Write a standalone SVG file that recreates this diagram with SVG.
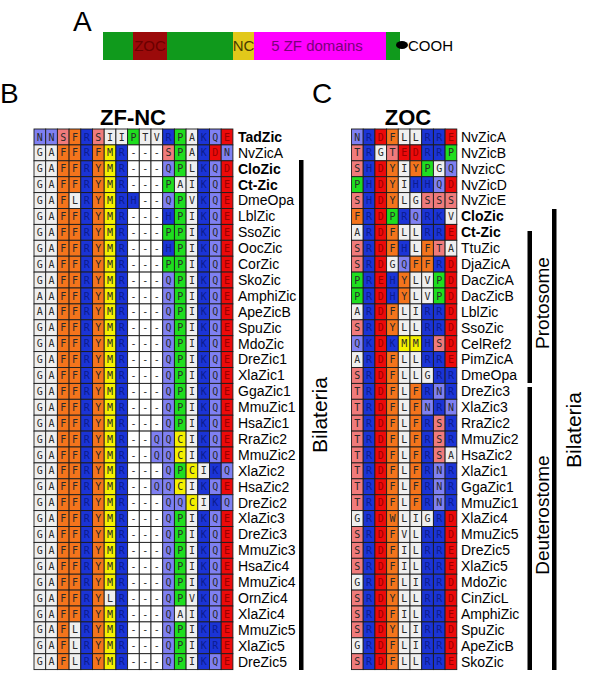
<svg xmlns="http://www.w3.org/2000/svg" width="600" height="681" viewBox="0 0 600 681">
<style>
.cell rect{width:11.7px;height:15.9px;stroke:#1c1c1c;stroke-width:.9px}
.b{fill:#1b34d6}.q{fill:#7f80f2}.r{fill:#ec0a0a}.s{fill:#f07b7b}.o{fill:#f4741c}.y{fill:#f4f000}.g{fill:#1fde1f}.w{fill:#efefef}.n{fill:#fff}
.lt{font-family:"DejaVu Sans Mono",monospace;font-size:10px;fill:#2a2a2a;text-anchor:middle}
.tb{fill:#0c1c8e}.tr{fill:#9a0000}
.nm{font-family:"Liberation Sans",Arial,sans-serif;font-size:14px;fill:#000}
.bd{font-weight:bold}
.pl{font-family:"Liberation Sans",Arial,sans-serif;font-size:28px;fill:#000}
.tt{font-family:"Liberation Sans",Arial,sans-serif;font-size:22px;font-weight:bold;text-anchor:middle}
.gl{font-family:"Liberation Sans",Arial,sans-serif;font-size:21px;text-anchor:middle}
.gs{font-family:"Liberation Sans",Arial,sans-serif;font-size:19px;text-anchor:middle}
.dm{font-family:"Liberation Sans",Arial,sans-serif;font-size:15px;text-anchor:middle}
</style>
<defs>
<g id="zstd" class="cell"><rect class="w"/><rect x="11.7" class="w"/><rect x="23.4" class="o"/><rect x="35.1" class="o"/><rect x="46.8" class="b"/><rect x="58.5" class="o"/><rect x="70.2" class="y"/><rect x="81.9" class="b"/><rect x="93.6" class="n"/><rect x="105.3" class="n"/><rect x="117" class="n"/><rect x="128.7" class="q"/><rect x="140.4" class="g"/><rect x="152.1" class="w"/><rect x="163.8" class="b"/><rect x="175.5" class="q"/><rect x="187.2" class="r"/><text class="lt" y="11.6" x="5.85 17.55 29.25 40.95 52.65 64.35 76.05 87.75 99.45 111.15 122.85 134.55 146.25 157.95 169.65 181.35 193.05">GAFF<tspan class="tb">R</tspan>YM<tspan class="tb">R</tspan>---QPI<tspan class="tb">K</tspan>Q<tspan class="tr">E</tspan></text></g>
<g id="zlbl" class="cell"><rect class="w"/><rect x="11.7" class="w"/><rect x="23.4" class="o"/><rect x="35.1" class="o"/><rect x="46.8" class="b"/><rect x="58.5" class="o"/><rect x="70.2" class="y"/><rect x="81.9" class="b"/><rect x="93.6" class="n"/><rect x="105.3" class="n"/><rect x="117" class="n"/><rect x="128.7" class="b"/><rect x="140.4" class="g"/><rect x="152.1" class="w"/><rect x="163.8" class="b"/><rect x="175.5" class="q"/><rect x="187.2" class="r"/><text class="lt" y="11.6" x="5.85 17.55 29.25 40.95 52.65 64.35 76.05 87.75 99.45 111.15 122.85 134.55 146.25 157.95 169.65 181.35 193.05">GAFF<tspan class="tb">R</tspan>YM<tspan class="tb">R</tspan>---<tspan class="tb">H</tspan>PI<tspan class="tb">K</tspan>Q<tspan class="tr">E</tspan></text></g>
<g id="zsso" class="cell"><rect class="w"/><rect x="11.7" class="w"/><rect x="23.4" class="o"/><rect x="35.1" class="o"/><rect x="46.8" class="b"/><rect x="58.5" class="o"/><rect x="70.2" class="y"/><rect x="81.9" class="b"/><rect x="93.6" class="n"/><rect x="105.3" class="n"/><rect x="117" class="n"/><rect x="128.7" class="g"/><rect x="140.4" class="g"/><rect x="152.1" class="w"/><rect x="163.8" class="b"/><rect x="175.5" class="q"/><rect x="187.2" class="r"/><text class="lt" y="11.6" x="5.85 17.55 29.25 40.95 52.65 64.35 76.05 87.75 99.45 111.15 122.85 134.55 146.25 157.95 169.65 181.35 193.05">GAFF<tspan class="tb">R</tspan>YM<tspan class="tb">R</tspan>---PPI<tspan class="tb">K</tspan>Q<tspan class="tr">E</tspan></text></g>
<g id="zrra" class="cell"><rect class="w"/><rect x="11.7" class="w"/><rect x="23.4" class="o"/><rect x="35.1" class="o"/><rect x="46.8" class="b"/><rect x="58.5" class="o"/><rect x="70.2" class="y"/><rect x="81.9" class="b"/><rect x="93.6" class="n"/><rect x="105.3" class="n"/><rect x="117" class="q"/><rect x="128.7" class="q"/><rect x="140.4" class="y"/><rect x="152.1" class="w"/><rect x="163.8" class="b"/><rect x="175.5" class="q"/><rect x="187.2" class="r"/><text class="lt" y="11.6" x="5.85 17.55 29.25 40.95 52.65 64.35 76.05 87.75 99.45 111.15 122.85 134.55 146.25 157.95 169.65 181.35 193.05">GAFF<tspan class="tb">R</tspan>YM<tspan class="tb">R</tspan>--QQCI<tspan class="tb">K</tspan>Q<tspan class="tr">E</tspan></text></g>
<g id="zmmu5" class="cell"><rect class="w"/><rect x="11.7" class="w"/><rect x="23.4" class="o"/><rect x="35.1" class="w"/><rect x="46.8" class="b"/><rect x="58.5" class="o"/><rect x="70.2" class="y"/><rect x="81.9" class="b"/><rect x="93.6" class="n"/><rect x="105.3" class="n"/><rect x="117" class="n"/><rect x="128.7" class="q"/><rect x="140.4" class="g"/><rect x="152.1" class="w"/><rect x="163.8" class="b"/><rect x="175.5" class="b"/><rect x="187.2" class="r"/><text class="lt" y="11.6" x="5.85 17.55 29.25 40.95 52.65 64.35 76.05 87.75 99.45 111.15 122.85 134.55 146.25 157.95 169.65 181.35 193.05">GAFL<tspan class="tb">R</tspan>YM<tspan class="tb">R</tspan>---QPI<tspan class="tb">KR</tspan><tspan class="tr">E</tspan></text></g>
<g id="oA" class="cell"><rect class="w"/><rect x="11.7" class="b"/><rect x="23.4" class="r"/><rect x="35.1" class="o"/><rect x="46.8" class="w"/><rect x="58.5" class="w"/><rect x="70.2" class="b"/><rect x="81.9" class="b"/><rect x="93.6" class="r"/><text class="lt" y="11.6" x="5.85 17.55 29.25 40.95 52.65 64.35 76.05 87.75 99.45">A<tspan class="tb">R</tspan><tspan class="tr">D</tspan>FLL<tspan class="tb">RR</tspan><tspan class="tr">E</tspan></text></g>
<g id="oT" class="cell"><rect class="s"/><rect x="11.7" class="b"/><rect x="23.4" class="r"/><rect x="35.1" class="o"/><rect x="46.8" class="w"/><rect x="58.5" class="o"/><rect x="70.2" class="b"/><rect x="81.9" class="q"/><rect x="93.6" class="b"/><text class="lt" y="11.6" x="5.85 17.55 29.25 40.95 52.65 64.35 76.05 87.75 99.45">T<tspan class="tb">R</tspan><tspan class="tr">D</tspan>FLF<tspan class="tb">R</tspan>N<tspan class="tb">R</tspan></text></g>
<g id="oS" class="cell"><rect class="s"/><rect x="11.7" class="b"/><rect x="23.4" class="r"/><rect x="35.1" class="o"/><rect x="46.8" class="w"/><rect x="58.5" class="o"/><rect x="70.2" class="b"/><rect x="81.9" class="s"/><rect x="93.6" class="b"/><text class="lt" y="11.6" x="5.85 17.55 29.25 40.95 52.65 64.35 76.05 87.75 99.45">T<tspan class="tb">R</tspan><tspan class="tr">D</tspan>FLF<tspan class="tb">R</tspan>S<tspan class="tb">R</tspan></text></g>
<g id="oI" class="cell"><rect class="s"/><rect x="11.7" class="b"/><rect x="23.4" class="r"/><rect x="35.1" class="o"/><rect x="46.8" class="w"/><rect x="58.5" class="w"/><rect x="70.2" class="b"/><rect x="81.9" class="b"/><rect x="93.6" class="r"/><text class="lt" y="11.6" x="5.85 17.55 29.25 40.95 52.65 64.35 76.05 87.75 99.45">S<tspan class="tb">R</tspan><tspan class="tr">D</tspan>FIL<tspan class="tb">RR</tspan><tspan class="tr">E</tspan></text></g>
<g id="oG" class="cell"><rect class="w"/><rect x="11.7" class="b"/><rect x="23.4" class="r"/><rect x="35.1" class="o"/><rect x="46.8" class="w"/><rect x="58.5" class="w"/><rect x="70.2" class="b"/><rect x="81.9" class="b"/><rect x="93.6" class="r"/><text class="lt" y="11.6" x="5.85 17.55 29.25 40.95 52.65 64.35 76.05 87.75 99.45">G<tspan class="tb">R</tspan><tspan class="tr">D</tspan>FLI<tspan class="tb">RR</tspan><tspan class="tr">D</tspan></text></g>
<g id="oY" class="cell"><rect class="s"/><rect x="11.7" class="b"/><rect x="23.4" class="r"/><rect x="35.1" class="o"/><rect x="46.8" class="w"/><rect x="58.5" class="w"/><rect x="70.2" class="b"/><rect x="81.9" class="b"/><rect x="93.6" class="r"/><text class="lt" y="11.6" x="5.85 17.55 29.25 40.95 52.65 64.35 76.05 87.75 99.45">S<tspan class="tb">R</tspan><tspan class="tr">D</tspan>YLL<tspan class="tb">RR</tspan><tspan class="tr">D</tspan></text></g>
</defs>

<g id="panelA">
<text class="pl" x="73" y="31">A</text>
<rect x="103" y="32" width="297" height="28" fill="#109a1c"/>
<rect x="133" y="32" width="34" height="28" fill="#9b0a0a"/>
<rect x="233" y="32" width="21" height="28" fill="#e2c81a"/>
<rect x="254" y="32" width="132" height="28" fill="#ff00ff"/>
<text class="dm" x="150" y="51" fill="#6a0000">ZOC</text>
<text class="dm" x="243.5" y="51" fill="#4a3c00">NC</text>
<text class="dm" x="317" y="51" fill="#7a007a">5 ZF domains</text>
<ellipse cx="402" cy="45" rx="6" ry="4" fill="#000"/>
<text x="408" y="51" font-family="Liberation Sans, Arial, sans-serif" font-size="15" fill="#000">COOH</text>
</g>

<text class="pl" x="0" y="103">B</text>
<text class="pl" x="312" y="103">C</text>
<text class="tt" x="133" y="125">ZF-NC</text>
<text class="tt" x="408" y="125">ZOC</text>

<g id="zfnc">
<g id="zf-TadZic" class="cell" transform="translate(34,129)"><rect class="q"/><rect x="11.7" class="q"/><rect x="23.4" class="s"/><rect x="35.1" class="o"/><rect x="46.8" class="b"/><rect x="58.5" class="s"/><rect x="70.2" class="w"/><rect x="81.9" class="w"/><rect x="93.6" class="g"/><rect x="105.3" class="w"/><rect x="117" class="w"/><rect x="128.7" class="b"/><rect x="140.4" class="g"/><rect x="152.1" class="w"/><rect x="163.8" class="b"/><rect x="175.5" class="q"/><rect x="187.2" class="r"/><text class="lt" y="11.6" x="5.85 17.55 29.25 40.95 52.65 64.35 76.05 87.75 99.45 111.15 122.85 134.55 146.25 157.95 169.65 181.35 193.05">NNSF<tspan class="tb">R</tspan>SIIPTV<tspan class="tb">R</tspan>PA<tspan class="tb">K</tspan>Q<tspan class="tr">E</tspan></text></g>
<g id="zf-NvZicA" class="cell" transform="translate(34,144.9)"><rect class="w"/><rect x="11.7" class="w"/><rect x="23.4" class="o"/><rect x="35.1" class="o"/><rect x="46.8" class="b"/><rect x="58.5" class="o"/><rect x="70.2" class="y"/><rect x="81.9" class="b"/><rect x="93.6" class="n"/><rect x="105.3" class="n"/><rect x="117" class="n"/><rect x="128.7" class="s"/><rect x="140.4" class="g"/><rect x="152.1" class="w"/><rect x="163.8" class="b"/><rect x="175.5" class="r"/><rect x="187.2" class="q"/><text class="lt" y="11.6" x="5.85 17.55 29.25 40.95 52.65 64.35 76.05 87.75 99.45 111.15 122.85 134.55 146.25 157.95 169.65 181.35 193.05">GAFF<tspan class="tb">R</tspan>FM<tspan class="tb">R</tspan>---SPA<tspan class="tb">K</tspan><tspan class="tr">D</tspan>N</text></g>
<g id="zf-CloZic" class="cell" transform="translate(34,160.8)"><rect class="w"/><rect x="11.7" class="w"/><rect x="23.4" class="o"/><rect x="35.1" class="o"/><rect x="46.8" class="b"/><rect x="58.5" class="o"/><rect x="70.2" class="y"/><rect x="81.9" class="b"/><rect x="93.6" class="n"/><rect x="105.3" class="n"/><rect x="117" class="n"/><rect x="128.7" class="q"/><rect x="140.4" class="g"/><rect x="152.1" class="w"/><rect x="163.8" class="b"/><rect x="175.5" class="q"/><rect x="187.2" class="r"/><text class="lt" y="11.6" x="5.85 17.55 29.25 40.95 52.65 64.35 76.05 87.75 99.45 111.15 122.85 134.55 146.25 157.95 169.65 181.35 193.05">GAFF<tspan class="tb">R</tspan>YM<tspan class="tb">R</tspan>---QPL<tspan class="tb">K</tspan>Q<tspan class="tr">D</tspan></text></g>
<g id="zf-CtZic" class="cell" transform="translate(34,176.7)"><rect class="w"/><rect x="11.7" class="w"/><rect x="23.4" class="o"/><rect x="35.1" class="o"/><rect x="46.8" class="b"/><rect x="58.5" class="o"/><rect x="70.2" class="y"/><rect x="81.9" class="b"/><rect x="93.6" class="n"/><rect x="105.3" class="n"/><rect x="117" class="n"/><rect x="128.7" class="g"/><rect x="140.4" class="w"/><rect x="152.1" class="w"/><rect x="163.8" class="b"/><rect x="175.5" class="q"/><rect x="187.2" class="r"/><text class="lt" y="11.6" x="5.85 17.55 29.25 40.95 52.65 64.35 76.05 87.75 99.45 111.15 122.85 134.55 146.25 157.95 169.65 181.35 193.05">GAFF<tspan class="tb">R</tspan>YM<tspan class="tb">R</tspan>---PAI<tspan class="tb">K</tspan>Q<tspan class="tr">E</tspan></text></g>
<g id="zf-DmeOpa" class="cell" transform="translate(34,192.6)"><rect class="w"/><rect x="11.7" class="w"/><rect x="23.4" class="o"/><rect x="35.1" class="w"/><rect x="46.8" class="b"/><rect x="58.5" class="o"/><rect x="70.2" class="y"/><rect x="81.9" class="b"/><rect x="93.6" class="b"/><rect x="105.3" class="n"/><rect x="117" class="n"/><rect x="128.7" class="q"/><rect x="140.4" class="g"/><rect x="152.1" class="w"/><rect x="163.8" class="b"/><rect x="175.5" class="q"/><rect x="187.2" class="r"/><text class="lt" y="11.6" x="5.85 17.55 29.25 40.95 52.65 64.35 76.05 87.75 99.45 111.15 122.85 134.55 146.25 157.95 169.65 181.35 193.05">GAFL<tspan class="tb">R</tspan>YM<tspan class="tb">RH</tspan>--QPV<tspan class="tb">K</tspan>Q<tspan class="tr">E</tspan></text></g>
<use id="zf-LblZic" href="#zlbl" x="34" y="208.5"/>
<use id="zf-SsoZic" href="#zsso" x="34" y="224.4"/>
<use id="zf-OocZic" href="#zlbl" x="34" y="240.3"/>
<use id="zf-CorZic" href="#zsso" x="34" y="256.2"/>
<use id="zf-SkoZic" href="#zstd" x="34" y="272.1"/>
<g id="zf-AmphiZic" class="cell" transform="translate(34,288)"><rect class="w"/><rect x="11.7" class="w"/><rect x="23.4" class="o"/><rect x="35.1" class="o"/><rect x="46.8" class="b"/><rect x="58.5" class="o"/><rect x="70.2" class="y"/><rect x="81.9" class="b"/><rect x="93.6" class="n"/><rect x="105.3" class="n"/><rect x="117" class="n"/><rect x="128.7" class="q"/><rect x="140.4" class="g"/><rect x="152.1" class="w"/><rect x="163.8" class="b"/><rect x="175.5" class="q"/><rect x="187.2" class="r"/><text class="lt" y="11.6" x="5.85 17.55 29.25 40.95 52.65 64.35 76.05 87.75 99.45 111.15 122.85 134.55 146.25 157.95 169.65 181.35 193.05">AAFF<tspan class="tb">R</tspan>YM<tspan class="tb">R</tspan>---QPI<tspan class="tb">K</tspan>Q<tspan class="tr">E</tspan></text></g>
<g id="zf-ApeZicB" class="cell" transform="translate(34,303.9)"><rect class="w"/><rect x="11.7" class="w"/><rect x="23.4" class="o"/><rect x="35.1" class="o"/><rect x="46.8" class="b"/><rect x="58.5" class="o"/><rect x="70.2" class="y"/><rect x="81.9" class="b"/><rect x="93.6" class="n"/><rect x="105.3" class="n"/><rect x="117" class="n"/><rect x="128.7" class="q"/><rect x="140.4" class="g"/><rect x="152.1" class="w"/><rect x="163.8" class="b"/><rect x="175.5" class="q"/><rect x="187.2" class="r"/><text class="lt" y="11.6" x="5.85 17.55 29.25 40.95 52.65 64.35 76.05 87.75 99.45 111.15 122.85 134.55 146.25 157.95 169.65 181.35 193.05">AAFF<tspan class="tb">R</tspan>YM<tspan class="tb">R</tspan>---QPI<tspan class="tb">K</tspan>Q<tspan class="tr">E</tspan></text></g>
<use id="zf-SpuZic" href="#zstd" x="34" y="319.8"/>
<use id="zf-MdoZic" href="#zstd" x="34" y="335.7"/>
<use id="zf-DreZic1" href="#zstd" x="34" y="351.6"/>
<use id="zf-XlaZic1" href="#zstd" x="34" y="367.5"/>
<use id="zf-GgaZic1" href="#zstd" x="34" y="383.4"/>
<use id="zf-MmuZic1" href="#zstd" x="34" y="399.3"/>
<use id="zf-HsaZic1" href="#zstd" x="34" y="415.2"/>
<use id="zf-RraZic2" href="#zrra" x="34" y="431.1"/>
<use id="zf-MmuZic2" href="#zrra" x="34" y="447"/>
<g id="zf-XlaZic2" class="cell" transform="translate(34,462.9)"><rect class="w"/><rect x="11.7" class="w"/><rect x="23.4" class="o"/><rect x="35.1" class="o"/><rect x="46.8" class="b"/><rect x="58.5" class="o"/><rect x="70.2" class="y"/><rect x="81.9" class="b"/><rect x="93.6" class="n"/><rect x="105.3" class="n"/><rect x="117" class="n"/><rect x="128.7" class="q"/><rect x="140.4" class="g"/><rect x="152.1" class="y"/><rect x="163.8" class="w"/><rect x="175.5" class="b"/><rect x="187.2" class="q"/><text class="lt" y="11.6" x="5.85 17.55 29.25 40.95 52.65 64.35 76.05 87.75 99.45 111.15 122.85 134.55 146.25 157.95 169.65 181.35 193.05">GAFF<tspan class="tb">R</tspan>YM<tspan class="tb">R</tspan>---QPCI<tspan class="tb">K</tspan>Q</text></g>
<use id="zf-HsaZic2" href="#zrra" x="34" y="478.8"/>
<g id="zf-DreZic2" class="cell" transform="translate(34,494.7)"><rect class="w"/><rect x="11.7" class="w"/><rect x="23.4" class="o"/><rect x="35.1" class="o"/><rect x="46.8" class="b"/><rect x="58.5" class="o"/><rect x="70.2" class="y"/><rect x="81.9" class="b"/><rect x="93.6" class="n"/><rect x="105.3" class="n"/><rect x="117" class="n"/><rect x="128.7" class="q"/><rect x="140.4" class="q"/><rect x="152.1" class="y"/><rect x="163.8" class="w"/><rect x="175.5" class="b"/><rect x="187.2" class="q"/><text class="lt" y="11.6" x="5.85 17.55 29.25 40.95 52.65 64.35 76.05 87.75 99.45 111.15 122.85 134.55 146.25 157.95 169.65 181.35 193.05">GAFF<tspan class="tb">R</tspan>YM<tspan class="tb">R</tspan>---QQCI<tspan class="tb">K</tspan>Q</text></g>
<use id="zf-XlaZic3" href="#zstd" x="34" y="510.6"/>
<use id="zf-DreZic3" href="#zstd" x="34" y="526.5"/>
<use id="zf-MmuZic3" href="#zstd" x="34" y="542.4"/>
<use id="zf-HsaZic4" href="#zstd" x="34" y="558.3"/>
<use id="zf-MmuZic4" href="#zstd" x="34" y="574.2"/>
<g id="zf-OrnZic4" class="cell" transform="translate(34,590.1)"><rect class="w"/><rect x="11.7" class="w"/><rect x="23.4" class="o"/><rect x="35.1" class="o"/><rect x="46.8" class="b"/><rect x="58.5" class="o"/><rect x="70.2" class="w"/><rect x="81.9" class="b"/><rect x="93.6" class="n"/><rect x="105.3" class="n"/><rect x="117" class="n"/><rect x="128.7" class="q"/><rect x="140.4" class="g"/><rect x="152.1" class="w"/><rect x="163.8" class="b"/><rect x="175.5" class="q"/><rect x="187.2" class="r"/><text class="lt" y="11.6" x="5.85 17.55 29.25 40.95 52.65 64.35 76.05 87.75 99.45 111.15 122.85 134.55 146.25 157.95 169.65 181.35 193.05">GAFF<tspan class="tb">R</tspan>YL<tspan class="tb">R</tspan>---QPV<tspan class="tb">K</tspan>Q<tspan class="tr">E</tspan></text></g>
<g id="zf-XlaZic4" class="cell" transform="translate(34,606)"><rect class="w"/><rect x="11.7" class="w"/><rect x="23.4" class="o"/><rect x="35.1" class="o"/><rect x="46.8" class="b"/><rect x="58.5" class="o"/><rect x="70.2" class="y"/><rect x="81.9" class="b"/><rect x="93.6" class="n"/><rect x="105.3" class="n"/><rect x="117" class="n"/><rect x="128.7" class="q"/><rect x="140.4" class="w"/><rect x="152.1" class="w"/><rect x="163.8" class="b"/><rect x="175.5" class="q"/><rect x="187.2" class="r"/><text class="lt" y="11.6" x="5.85 17.55 29.25 40.95 52.65 64.35 76.05 87.75 99.45 111.15 122.85 134.55 146.25 157.95 169.65 181.35 193.05">GAFF<tspan class="tb">R</tspan>YM<tspan class="tb">R</tspan>---QAI<tspan class="tb">K</tspan>Q<tspan class="tr">E</tspan></text></g>
<use id="zf-MmuZic5" href="#zmmu5" x="34" y="621.9"/>
<use id="zf-XlaZic5" href="#zmmu5" x="34" y="637.8"/>
<g id="zf-DreZic5" class="cell" transform="translate(34,653.7)"><rect class="w"/><rect x="11.7" class="w"/><rect x="23.4" class="o"/><rect x="35.1" class="w"/><rect x="46.8" class="b"/><rect x="58.5" class="o"/><rect x="70.2" class="y"/><rect x="81.9" class="b"/><rect x="93.6" class="n"/><rect x="105.3" class="n"/><rect x="117" class="n"/><rect x="128.7" class="q"/><rect x="140.4" class="g"/><rect x="152.1" class="w"/><rect x="163.8" class="b"/><rect x="175.5" class="q"/><rect x="187.2" class="r"/><text class="lt" y="11.6" x="5.85 17.55 29.25 40.95 52.65 64.35 76.05 87.75 99.45 111.15 122.85 134.55 146.25 157.95 169.65 181.35 193.05">GAFL<tspan class="tb">R</tspan>YM<tspan class="tb">R</tspan>---QPI<tspan class="tb">K</tspan>Q<tspan class="tr">E</tspan></text></g>
</g>

<g id="zfnc-names" class="nm">
<text x="238" y="141.8" class="bd">TadZic</text>
<text x="238" y="157.7">NvZicA</text>
<text x="238" y="173.6" class="bd">CloZic</text>
<text x="238" y="189.5" class="bd">Ct-Zic</text>
<text x="238" y="205.4">DmeOpa</text>
<text x="238" y="221.3">LblZic</text>
<text x="238" y="237.2">SsoZic</text>
<text x="238" y="253.1">OocZic</text>
<text x="238" y="269">CorZic</text>
<text x="238" y="284.9">SkoZic</text>
<text x="238" y="300.8">AmphiZic</text>
<text x="238" y="316.7">ApeZicB</text>
<text x="238" y="332.6">SpuZic</text>
<text x="238" y="348.5">MdoZic</text>
<text x="238" y="364.4">DreZic1</text>
<text x="238" y="380.3">XlaZic1</text>
<text x="238" y="396.2">GgaZic1</text>
<text x="238" y="412.1">MmuZic1</text>
<text x="238" y="428">HsaZic1</text>
<text x="238" y="443.9">RraZic2</text>
<text x="238" y="459.8">MmuZic2</text>
<text x="238" y="475.7">XlaZic2</text>
<text x="238" y="491.6">HsaZic2</text>
<text x="238" y="507.5">DreZic2</text>
<text x="238" y="523.4">XlaZic3</text>
<text x="238" y="539.3">DreZic3</text>
<text x="238" y="555.2">MmuZic3</text>
<text x="238" y="571.1">HsaZic4</text>
<text x="238" y="587">MmuZic4</text>
<text x="238" y="602.9">OrnZic4</text>
<text x="238" y="618.8">XlaZic4</text>
<text x="238" y="634.7">MmuZic5</text>
<text x="238" y="650.6">XlaZic5</text>
<text x="238" y="666.5">DreZic5</text>
</g>

<g id="zoc">
<g id="oc-NvZicA" class="cell" transform="translate(351.5,129)"><rect class="q"/><rect x="11.7" class="b"/><rect x="23.4" class="r"/><rect x="35.1" class="o"/><rect x="46.8" class="w"/><rect x="58.5" class="w"/><rect x="70.2" class="b"/><rect x="81.9" class="b"/><rect x="93.6" class="r"/><text class="lt" y="11.6" x="5.85 17.55 29.25 40.95 52.65 64.35 76.05 87.75 99.45">N<tspan class="tb">R</tspan><tspan class="tr">D</tspan>FLL<tspan class="tb">RR</tspan><tspan class="tr">E</tspan></text></g>
<g id="oc-NvZicB" class="cell" transform="translate(351.5,144.9)"><rect class="s"/><rect x="11.7" class="b"/><rect x="23.4" class="w"/><rect x="35.1" class="s"/><rect x="46.8" class="r"/><rect x="58.5" class="r"/><rect x="70.2" class="b"/><rect x="81.9" class="b"/><rect x="93.6" class="g"/><text class="lt" y="11.6" x="5.85 17.55 29.25 40.95 52.65 64.35 76.05 87.75 99.45">T<tspan class="tb">R</tspan>GT<tspan class="tr">ED</tspan><tspan class="tb">RR</tspan>P</text></g>
<g id="oc-NvzicC" class="cell" transform="translate(351.5,160.8)"><rect class="s"/><rect x="11.7" class="b"/><rect x="23.4" class="r"/><rect x="35.1" class="o"/><rect x="46.8" class="w"/><rect x="58.5" class="o"/><rect x="70.2" class="g"/><rect x="81.9" class="w"/><rect x="93.6" class="q"/><text class="lt" y="11.6" x="5.85 17.55 29.25 40.95 52.65 64.35 76.05 87.75 99.45">S<tspan class="tb">H</tspan><tspan class="tr">D</tspan>YIYPGQ</text></g>
<g id="oc-NvZicD" class="cell" transform="translate(351.5,176.7)"><rect class="g"/><rect x="11.7" class="b"/><rect x="23.4" class="r"/><rect x="35.1" class="o"/><rect x="46.8" class="w"/><rect x="58.5" class="b"/><rect x="70.2" class="b"/><rect x="81.9" class="q"/><rect x="93.6" class="r"/><text class="lt" y="11.6" x="5.85 17.55 29.25 40.95 52.65 64.35 76.05 87.75 99.45">P<tspan class="tb">H</tspan><tspan class="tr">D</tspan>YI<tspan class="tb">HH</tspan>Q<tspan class="tr">D</tspan></text></g>
<g id="oc-NvZicE" class="cell" transform="translate(351.5,192.6)"><rect class="s"/><rect x="11.7" class="b"/><rect x="23.4" class="r"/><rect x="35.1" class="o"/><rect x="46.8" class="w"/><rect x="58.5" class="w"/><rect x="70.2" class="s"/><rect x="81.9" class="s"/><rect x="93.6" class="s"/><text class="lt" y="11.6" x="5.85 17.55 29.25 40.95 52.65 64.35 76.05 87.75 99.45">S<tspan class="tb">H</tspan><tspan class="tr">D</tspan>YLGSSS</text></g>
<g id="oc-CloZic" class="cell" transform="translate(351.5,208.5)"><rect class="o"/><rect x="11.7" class="b"/><rect x="23.4" class="r"/><rect x="35.1" class="g"/><rect x="46.8" class="b"/><rect x="58.5" class="q"/><rect x="70.2" class="b"/><rect x="81.9" class="b"/><rect x="93.6" class="w"/><text class="lt" y="11.6" x="5.85 17.55 29.25 40.95 52.65 64.35 76.05 87.75 99.45">F<tspan class="tb">R</tspan><tspan class="tr">D</tspan>P<tspan class="tb">R</tspan>Q<tspan class="tb">RK</tspan>V</text></g>
<use id="oc-CtZic" href="#oA" x="351.5" y="224.4"/>
<g id="oc-TtuZic" class="cell" transform="translate(351.5,240.3)"><rect class="s"/><rect x="11.7" class="b"/><rect x="23.4" class="r"/><rect x="35.1" class="o"/><rect x="46.8" class="b"/><rect x="58.5" class="w"/><rect x="70.2" class="o"/><rect x="81.9" class="s"/><rect x="93.6" class="w"/><text class="lt" y="11.6" x="5.85 17.55 29.25 40.95 52.65 64.35 76.05 87.75 99.45">S<tspan class="tb">R</tspan><tspan class="tr">D</tspan>F<tspan class="tb">H</tspan>LFTA</text></g>
<g id="oc-DjaZicA" class="cell" transform="translate(351.5,256.2)"><rect class="s"/><rect x="11.7" class="b"/><rect x="23.4" class="r"/><rect x="35.1" class="w"/><rect x="46.8" class="q"/><rect x="58.5" class="o"/><rect x="70.2" class="o"/><rect x="81.9" class="b"/><rect x="93.6" class="r"/><text class="lt" y="11.6" x="5.85 17.55 29.25 40.95 52.65 64.35 76.05 87.75 99.45">S<tspan class="tb">R</tspan><tspan class="tr">D</tspan>GQFF<tspan class="tb">R</tspan><tspan class="tr">D</tspan></text></g>
<g id="oc-DacZicA" class="cell" transform="translate(351.5,272.1)"><rect class="g"/><rect x="11.7" class="b"/><rect x="23.4" class="r"/><rect x="35.1" class="b"/><rect x="46.8" class="o"/><rect x="58.5" class="w"/><rect x="70.2" class="w"/><rect x="81.9" class="g"/><rect x="93.6" class="r"/><text class="lt" y="11.6" x="5.85 17.55 29.25 40.95 52.65 64.35 76.05 87.75 99.45">P<tspan class="tb">R</tspan><tspan class="tr">E</tspan><tspan class="tb">H</tspan>YLVP<tspan class="tr">D</tspan></text></g>
<g id="oc-DacZicB" class="cell" transform="translate(351.5,288)"><rect class="g"/><rect x="11.7" class="b"/><rect x="23.4" class="r"/><rect x="35.1" class="b"/><rect x="46.8" class="o"/><rect x="58.5" class="w"/><rect x="70.2" class="w"/><rect x="81.9" class="g"/><rect x="93.6" class="r"/><text class="lt" y="11.6" x="5.85 17.55 29.25 40.95 52.65 64.35 76.05 87.75 99.45">P<tspan class="tb">R</tspan><tspan class="tr">D</tspan><tspan class="tb">H</tspan>YLVP<tspan class="tr">D</tspan></text></g>
<g id="oc-LblZic" class="cell" transform="translate(351.5,303.9)"><rect class="w"/><rect x="11.7" class="b"/><rect x="23.4" class="r"/><rect x="35.1" class="o"/><rect x="46.8" class="w"/><rect x="58.5" class="w"/><rect x="70.2" class="b"/><rect x="81.9" class="b"/><rect x="93.6" class="r"/><text class="lt" y="11.6" x="5.85 17.55 29.25 40.95 52.65 64.35 76.05 87.75 99.45">A<tspan class="tb">R</tspan><tspan class="tr">D</tspan>FLI<tspan class="tb">RR</tspan><tspan class="tr">D</tspan></text></g>
<use id="oc-SsoZic" href="#oY" x="351.5" y="319.8"/>
<g id="oc-CelRef2" class="cell" transform="translate(351.5,335.7)"><rect class="q"/><rect x="11.7" class="b"/><rect x="23.4" class="r"/><rect x="35.1" class="b"/><rect x="46.8" class="y"/><rect x="58.5" class="y"/><rect x="70.2" class="b"/><rect x="81.9" class="s"/><rect x="93.6" class="r"/><text class="lt" y="11.6" x="5.85 17.55 29.25 40.95 52.65 64.35 76.05 87.75 99.45">Q<tspan class="tb">K</tspan><tspan class="tr">D</tspan><tspan class="tb">K</tspan>MM<tspan class="tb">H</tspan>S<tspan class="tr">D</tspan></text></g>
<use id="oc-PimZicA" href="#oA" x="351.5" y="351.6"/>
<g id="oc-DmeOpa" class="cell" transform="translate(351.5,367.5)"><rect class="s"/><rect x="11.7" class="b"/><rect x="23.4" class="r"/><rect x="35.1" class="o"/><rect x="46.8" class="w"/><rect x="58.5" class="w"/><rect x="70.2" class="w"/><rect x="81.9" class="b"/><rect x="93.6" class="b"/><text class="lt" y="11.6" x="5.85 17.55 29.25 40.95 52.65 64.35 76.05 87.75 99.45">S<tspan class="tb">R</tspan><tspan class="tr">D</tspan>FLLG<tspan class="tb">RR</tspan></text></g>
<use id="oc-DreZic3" href="#oT" x="351.5" y="383.4"/>
<g id="oc-XlaZic3" class="cell" transform="translate(351.5,399.3)"><rect class="s"/><rect x="11.7" class="b"/><rect x="23.4" class="r"/><rect x="35.1" class="o"/><rect x="46.8" class="w"/><rect x="58.5" class="o"/><rect x="70.2" class="q"/><rect x="81.9" class="b"/><rect x="93.6" class="q"/><text class="lt" y="11.6" x="5.85 17.55 29.25 40.95 52.65 64.35 76.05 87.75 99.45">T<tspan class="tb">R</tspan><tspan class="tr">D</tspan>FLFN<tspan class="tb">R</tspan>N</text></g>
<use id="oc-RraZic2" href="#oS" x="351.5" y="415.2"/>
<use id="oc-MmuZic2" href="#oS" x="351.5" y="431.1"/>
<g id="oc-HsaZic2" class="cell" transform="translate(351.5,447)"><rect class="s"/><rect x="11.7" class="b"/><rect x="23.4" class="r"/><rect x="35.1" class="o"/><rect x="46.8" class="w"/><rect x="58.5" class="o"/><rect x="70.2" class="b"/><rect x="81.9" class="s"/><rect x="93.6" class="w"/><text class="lt" y="11.6" x="5.85 17.55 29.25 40.95 52.65 64.35 76.05 87.75 99.45">T<tspan class="tb">R</tspan><tspan class="tr">D</tspan>FLF<tspan class="tb">R</tspan>SA</text></g>
<use id="oc-XlaZic1" href="#oT" x="351.5" y="462.9"/>
<use id="oc-GgaZic1" href="#oT" x="351.5" y="478.8"/>
<use id="oc-MmuZic1" href="#oT" x="351.5" y="494.7"/>
<g id="oc-XlaZic4" class="cell" transform="translate(351.5,510.6)"><rect class="w"/><rect x="11.7" class="b"/><rect x="23.4" class="r"/><rect x="35.1" class="o"/><rect x="46.8" class="w"/><rect x="58.5" class="w"/><rect x="70.2" class="w"/><rect x="81.9" class="b"/><rect x="93.6" class="r"/><text class="lt" y="11.6" x="5.85 17.55 29.25 40.95 52.65 64.35 76.05 87.75 99.45">G<tspan class="tb">R</tspan><tspan class="tr">D</tspan>WLIG<tspan class="tb">R</tspan><tspan class="tr">D</tspan></text></g>
<g id="oc-MmuZic5" class="cell" transform="translate(351.5,526.5)"><rect class="s"/><rect x="11.7" class="b"/><rect x="23.4" class="r"/><rect x="35.1" class="o"/><rect x="46.8" class="w"/><rect x="58.5" class="w"/><rect x="70.2" class="b"/><rect x="81.9" class="b"/><rect x="93.6" class="r"/><text class="lt" y="11.6" x="5.85 17.55 29.25 40.95 52.65 64.35 76.05 87.75 99.45">S<tspan class="tb">R</tspan><tspan class="tr">D</tspan>FVL<tspan class="tb">RR</tspan><tspan class="tr">D</tspan></text></g>
<use id="oc-DreZic5" href="#oI" x="351.5" y="542.4"/>
<use id="oc-XlaZic5" href="#oI" x="351.5" y="558.3"/>
<use id="oc-MdoZic" href="#oG" x="351.5" y="574.2"/>
<use id="oc-CinZicL" href="#oY" x="351.5" y="590.1"/>
<use id="oc-AmphiZic" href="#oI" x="351.5" y="606"/>
<g id="oc-SpuZic" class="cell" transform="translate(351.5,621.9)"><rect class="s"/><rect x="11.7" class="b"/><rect x="23.4" class="r"/><rect x="35.1" class="o"/><rect x="46.8" class="w"/><rect x="58.5" class="w"/><rect x="70.2" class="b"/><rect x="81.9" class="b"/><rect x="93.6" class="r"/><text class="lt" y="11.6" x="5.85 17.55 29.25 40.95 52.65 64.35 76.05 87.75 99.45">S<tspan class="tb">R</tspan><tspan class="tr">D</tspan>YLI<tspan class="tb">RR</tspan><tspan class="tr">D</tspan></text></g>
<use id="oc-ApeZicB" href="#oG" x="351.5" y="637.8"/>
<g id="oc-SkoZic" class="cell" transform="translate(351.5,653.7)"><rect class="s"/><rect x="11.7" class="b"/><rect x="23.4" class="r"/><rect x="35.1" class="o"/><rect x="46.8" class="w"/><rect x="58.5" class="w"/><rect x="70.2" class="b"/><rect x="81.9" class="b"/><rect x="93.6" class="r"/><text class="lt" y="11.6" x="5.85 17.55 29.25 40.95 52.65 64.35 76.05 87.75 99.45">S<tspan class="tb">R</tspan><tspan class="tr">D</tspan>FLL<tspan class="tb">RR</tspan><tspan class="tr">E</tspan></text></g>
</g>

<g id="zoc-names" class="nm">
<text x="461" y="141.8">NvZicA</text>
<text x="461" y="157.7">NvZicB</text>
<text x="461" y="173.6">NvzicC</text>
<text x="461" y="189.5">NvZicD</text>
<text x="461" y="205.4">NvZicE</text>
<text x="461" y="221.3" class="bd">CloZic</text>
<text x="461" y="237.2" class="bd">Ct-Zic</text>
<text x="461" y="253.1">TtuZic</text>
<text x="461" y="269">DjaZicA</text>
<text x="461" y="284.9">DacZicA</text>
<text x="461" y="300.8">DacZicB</text>
<text x="461" y="316.7">LblZic</text>
<text x="461" y="332.6">SsoZic</text>
<text x="461" y="348.5">CelRef2</text>
<text x="461" y="364.4">PimZicA</text>
<text x="461" y="380.3">DmeOpa</text>
<text x="461" y="396.2">DreZic3</text>
<text x="461" y="412.1">XlaZic3</text>
<text x="461" y="428">RraZic2</text>
<text x="461" y="443.9">MmuZic2</text>
<text x="461" y="459.8">HsaZic2</text>
<text x="461" y="475.7">XlaZic1</text>
<text x="461" y="491.6">GgaZic1</text>
<text x="461" y="507.5">MmuZic1</text>
<text x="461" y="523.4">XlaZic4</text>
<text x="461" y="539.3">MmuZic5</text>
<text x="461" y="555.2">DreZic5</text>
<text x="461" y="571.1">XlaZic5</text>
<text x="461" y="587">MdoZic</text>
<text x="461" y="602.9">CinZicL</text>
<text x="461" y="618.8">AmphiZic</text>
<text x="461" y="634.7">SpuZic</text>
<text x="461" y="650.6">ApeZicB</text>
<text x="461" y="666.5">SkoZic</text>
</g>

<g id="groups">
<rect x="299" y="160" width="4.5" height="510" fill="#000"/>
<text class="gl" transform="translate(327,415) rotate(-90)">Bilateria</text>
<rect x="527.5" y="231" width="4.5" height="152" fill="#000"/>
<text class="gs" transform="translate(549,303) rotate(-90)">Protosome</text>
<rect x="527.5" y="387" width="4.5" height="283" fill="#000"/>
<text class="gs" transform="translate(549,515) rotate(-90)">Deuterostome</text>
<rect x="552" y="209" width="4.5" height="461" fill="#000"/>
<text class="gl" transform="translate(581,430) rotate(-90)">Bilateria</text>
</g>
</svg>
